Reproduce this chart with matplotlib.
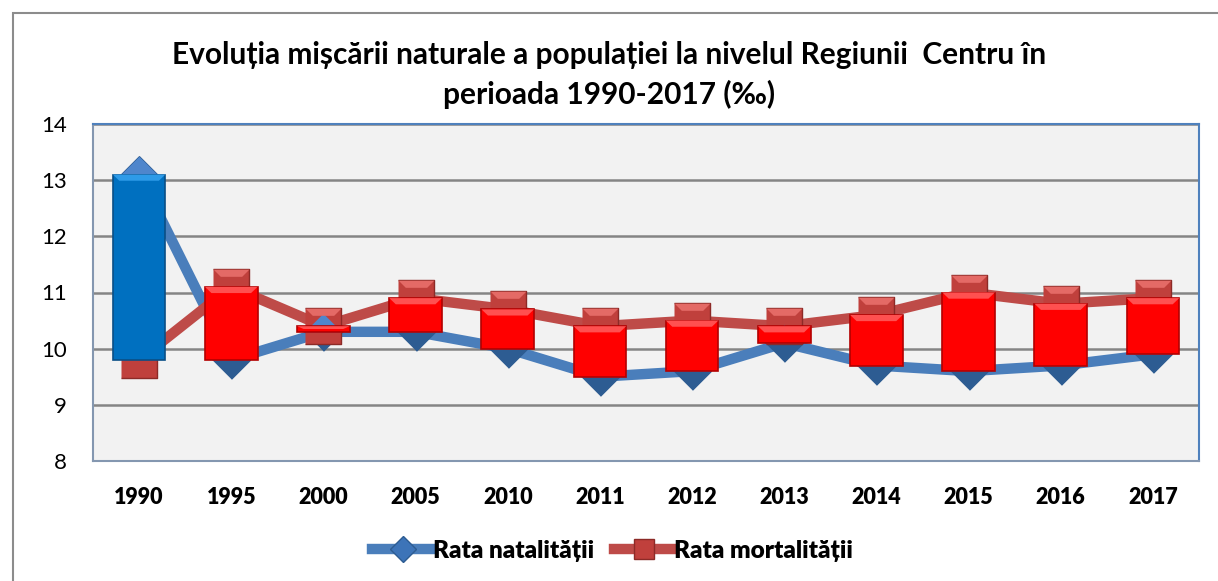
import matplotlib
matplotlib.use("Agg")
import matplotlib.pyplot as plt
from matplotlib.patches import Rectangle, Polygon
from matplotlib.lines import Line2D

plt.rcParams['font.family'] = ['Lato', 'DejaVu Sans']

years = ["1990", "1995", "2000", "2005", "2010", "2011", "2012", "2013",
         "2014", "2015", "2016", "2017"]
natalitate = [13.1, 9.8, 10.3, 10.3, 10.0, 9.5, 9.6, 10.1, 9.7, 9.6, 9.7, 9.9]
mortalitate = [9.8, 11.1, 10.4, 10.9, 10.7, 10.4, 10.5, 10.4, 10.6, 11.0, 10.8, 10.9]

title = "Evoluția mișcării naturale a populației la nivelul Regiunii  Centru în\nperioada 1990-2017 (‰)"
label_nat = "Rata natalității"
label_mort = "Rata mortalității"

W, H = 1218, 581
fig = plt.figure(figsize=(W / 100, H / 100), dpi=100)
fig.patch.set_facecolor("white")

# outer chart border
fig.add_artist(Rectangle((13 / W, -0.05), (W - 13) / W + 0.05, 1.05 - 13 / H,
                         transform=fig.transFigure, fill=False,
                         edgecolor="#8c8c8c", linewidth=1.5))

L, R, T, B = 93, 1199, 124, 461
ax = fig.add_axes([L / W, 1 - B / H, (R - L) / W, (B - T) / H])
ax.set_facecolor("#f2f2f2")
x = list(range(len(years)))
ax.set_xlim(-0.5, len(years) - 0.5)
ax.set_ylim(8, 14)
ax.set_yticks(range(8, 15))
ax.set_xticks(x)
ax.tick_params(axis="y", labelsize=16, length=0, pad=19)
ax.tick_params(axis="x", length=0, pad=19)
ax.set_xticklabels(years, fontdict={"fontsize": 15.5, "fontweight": "heavy"})
for sp in ["left", "bottom"]:
    ax.spines[sp].set_color("#8497b0")
    ax.spines[sp].set_linewidth(1.5)
for sp in ["top", "right"]:
    ax.spines[sp].set_color("#4f81bd")
    ax.spines[sp].set_linewidth(1.5)
ax.yaxis.grid(True, color="#858585", linewidth=1.8)
ax.set_axisbelow(True)

blue_line = "#4a7ebb"
red_line = "#be4b48"

ax.plot(x, natalitate, color=blue_line, linewidth=7.5, zorder=2,
        solid_capstyle="butt", solid_joinstyle="round")
ax.plot(x, mortalitate, color=red_line, linewidth=7.5, zorder=2,
        solid_capstyle="butt", solid_joinstyle="round")

diamond = [(-1, 0), (0, 1), (1, 0), (0, -1)]
diamond_top = [(-1, 0), (0, 1), (1, 0)]
square = [(-1, -1), (1, -1), (1, 1), (-1, 1)]
square_top = [(-1, 1), (1, 1), (0.6, 0.6), (-0.6, 0.6)]

ms = 27
ax.plot(x, natalitate, linestyle="none", marker=diamond, markersize=ms,
        markerfacecolor="#2d5c92", markeredgecolor="#2d5c92", zorder=3)
ax.plot(x, natalitate, linestyle="none", marker=diamond_top, markersize=ms,
        markerfacecolor="#4f86cc", markeredgewidth=0, zorder=3.1)
ax.plot(x, mortalitate, linestyle="none", marker=square, markersize=ms * 0.95,
        markerfacecolor="#c0403c", markeredgecolor="#8c2a27", markeredgewidth=1, zorder=3)
ax.plot(x, mortalitate, linestyle="none", marker=square_top, markersize=ms * 0.95,
        markerfacecolor="#e46a66", markeredgewidth=0, zorder=3.1)

# up/down bars
bw = 0.57
for i, (n, m) in enumerate(zip(natalitate, mortalitate)):
    lo, hi = min(n, m), max(n, m)
    up = n > m
    face = "#0070c0" if up else "#ff0000"
    edge = "#0a4f86" if up else "#b30000"
    light = "#2e9be8" if up else "#ff5050"
    ax.add_patch(Rectangle((i - bw / 2, lo), bw, hi - lo, facecolor=face,
                           edgecolor=edge, linewidth=1.2, zorder=4))
    bh = min(0.11, (hi - lo) / 2)
    bx = 0.07
    ax.add_patch(Polygon([(i - bw / 2, hi), (i + bw / 2, hi),
                          (i + bw / 2 - bx, hi - bh), (i - bw / 2 + bx, hi - bh)],
                         closed=True, facecolor=light, edgecolor="none", zorder=4.1))

fig.text(0.5, 1 - 75 / H, title, ha="center", va="center", fontsize=21.5,
         fontweight="bold", linespacing=1.45)

h1 = Line2D([], [], color=blue_line, linewidth=7.5, marker="D", markersize=13,
            markerfacecolor="#3d74b8", markeredgecolor="#2d5c92")
h2 = Line2D([], [], color=red_line, linewidth=7.5, marker="s", markersize=15,
            markerfacecolor="#c0403c", markeredgecolor="#8c2a27")
fig.legend([h1, h2], [label_nat, label_mort], loc="center",
           bbox_to_anchor=(0.503, 1 - 551 / H), ncol=2, frameon=False,
           prop={"size": 17.5, "weight": "heavy"}, handlelength=2.5,
           handletextpad=0.0, columnspacing=0.8)

fig.savefig("out.png", dpi=100)
